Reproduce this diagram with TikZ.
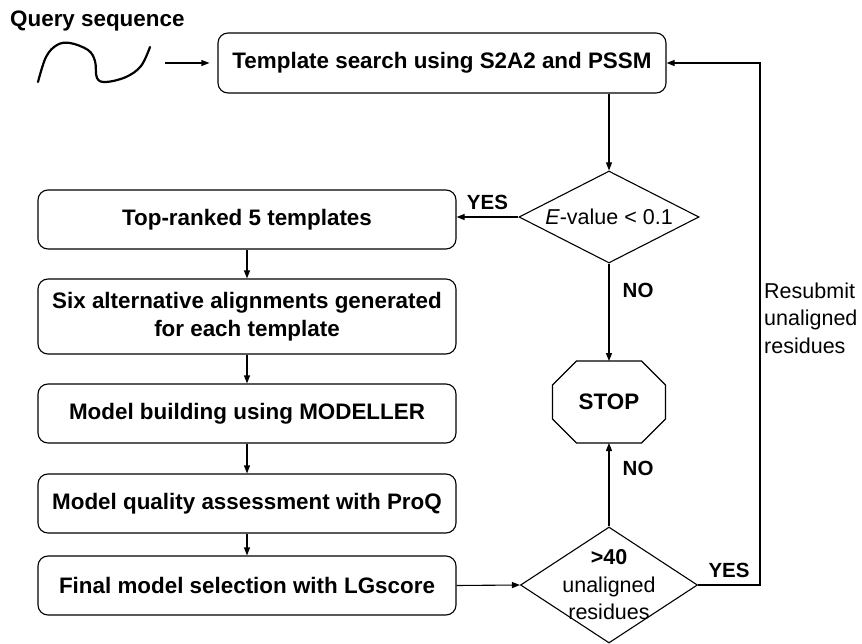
\documentclass[tikz,border=0pt]{standalone}
\usepackage{fontspec}
\setmainfont{Liberation Sans}
\usetikzlibrary{arrows.meta,shapes.geometric}

\tikzset{
  flow/.style={-{Triangle[length=8pt,width=6pt]},line width=1.1pt},
  heavy/.style={font=\fontsize{22.4}{28}\selectfont\bfseries},
  stepbox/.style={draw,line width=1.1pt,rounded corners=10pt,
    minimum width=418pt,minimum height=59pt,inner sep=0pt,
    align=center,heavy},
  decision/.style={draw,diamond,line width=1.1pt,align=center},
  answer/.style={font=\fontsize{20.5}{24}\selectfont\bfseries},
}

\begin{document}
\fontsize{21.5}{27.5}\selectfont
\begin{tikzpicture}[x=1pt,y=-1pt]
  \useasboundingbox (0,0) rectangle (862,644);

  % --- Input ---
  \node[anchor=west,inner sep=0pt,heavy] (query) at (10,21) {Query sequence};
  \draw[line width=2.2pt,line cap=round]
       plot[smooth,tension=0.6] coordinates {(38,82) (46,57) (57,45) (70,43)
       (88,50) (95,61) (97,78) (106,82) (126,77) (141,66) (150,47)};
  \coordinate (qtail) at (165,63);

  % --- Search and test ---
  \node[stepbox,minimum width=448pt,minimum height=60pt] (search) at (442,63)
        {Template search using S2A2 and PSSM};
  \node[decision,aspect=2,inner sep=0pt,minimum width=180pt,minimum height=92pt]
        (evalue) at (609,217) {\textit{E}-value < 0.1};
  \node[heavy,inner sep=0pt,outer sep=0pt,minimum width=113pt,minimum height=82pt]
        (stop) at (609,402) {STOP};
  \draw[line width=1.1pt]
       ([xshift=24pt]stop.north west) -- ([xshift=-24pt]stop.north east)
    -- ([yshift=-24pt]stop.north east) -- ([yshift=24pt]stop.south east)
    -- ([xshift=-24pt]stop.south east) -- ([xshift=24pt]stop.south west)
    -- ([yshift=24pt]stop.south west) -- ([yshift=-24pt]stop.north west) -- cycle;
  \node[decision,inner sep=-12pt,minimum width=177pt,minimum height=116pt]
        (unal) at (609,585) {\textbf{>40}\\unaligned\\residues};

  % --- Modelling steps ---
  \node[stepbox] (top) at (247,219.5) {Top-ranked 5 templates};
  \node[stepbox,minimum height=75pt] (align) at (247,316.5)
        {Six alternative alignments generated\\for each template};
  \node[stepbox] (build) at (247,413.5) {Model building using MODELLER};
  \node[stepbox] (quality) at (247,503.5) {Model quality assessment with ProQ};
  \node[stepbox] (select) at (247,585.5) {Final model selection with LGscore};

  % --- Arrows ---
  \draw[flow,shorten >=8pt] (qtail) -- (search.west);
  \draw[flow] (evalue.north |- search.south) -- (evalue.north);
  \draw[flow] (evalue.west) -- node[answer,above] {YES} (evalue.west -| top.east);
  \draw[flow] (evalue.south) -- node[answer,right,pos=0.28,xshift=6pt] {NO} (stop.north);
  \draw[flow] (unal.north) -- node[answer,right,pos=0.7,xshift=6pt] {NO} (stop.south);
  \foreach \a/\b in {top/align,align/build,build/quality,quality/select}
    \draw[flow] (\a.south) -- (\b.north);
  \draw[flow] (select.east) -- (unal.west);

  % --- Loop back ---
  \coordinate (back) at (760,63);
  \draw[flow] (unal.east) -- node[answer,above] {YES} (unal.east -| back)
       -- (back) -- (search.east);
  \node[anchor=west,align=left,inner sep=0pt] (resub) at (764,318)
        {Resubmit\\unaligned\\residues};
\end{tikzpicture}
\end{document}
